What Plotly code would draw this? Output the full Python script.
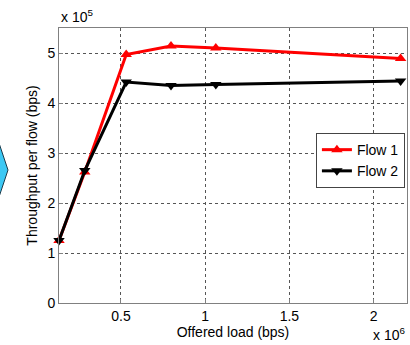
import plotly.graph_objects as go

# Data (x in units of 1e6 bps, y in units of 1e5 bps)
offered_load = [0.132, 0.285, 0.531, 0.797, 1.063, 2.16]
flow1 = [1.25, 2.62, 4.97, 5.14, 5.10, 4.89]
flow2 = [1.25, 2.65, 4.42, 4.35, 4.37, 4.44]
x_ticks = [0.5, 1, 1.5, 2]
y_ticks = [0, 1, 2, 3, 4, 5]

W, H = 410, 345
ml, mr, mt, mb = 59, 3, 28, 42
pw, ph = W - ml - mr, H - mt - mb
FONT = "Liberation Sans, Arial, sans-serif"

fig = go.Figure()
fig.add_trace(go.Scatter(x=offered_load, y=flow1, name="Flow 1", mode="lines+markers",
                         line=dict(color="#ff0000", width=3),
                         marker=dict(symbol="triangle-up", size=10, color="#ff0000"),
                         cliponaxis=False))
fig.add_trace(go.Scatter(x=offered_load, y=flow2, name="Flow 2", mode="lines+markers",
                         line=dict(color="#000000", width=3),
                         marker=dict(symbol="triangle-down", size=10, color="#000000"),
                         cliponaxis=False))

def px_to_paper(px, py):
    return (px - ml) / pw, 1 - (py - mt) / ph

p1 = px_to_paper(-2, 140)
p2 = px_to_paper(8, 170)
p3 = px_to_paper(-2, 200)
fig.add_shape(type="path", xref="paper", yref="paper",
              path=f"M {p1[0]} {p1[1]} L {p2[0]} {p2[1]} L {p3[0]} {p3[1]} Z",
              fillcolor="#3cc8f4", line=dict(color="#1a3a4a", width=1), layer="above")

axis_common = dict(showline=True, linecolor="#808080", linewidth=1, mirror=True,
                   ticks="inside", ticklen=4, tickcolor="#808080",
                   showgrid=True, gridcolor="#555555", griddash="dot", gridwidth=1,
                   zeroline=False, tickfont=dict(family=FONT, size=14, color="#000"))

fig.update_xaxes(range=[0.132, 2.198], tickvals=x_ticks, ticktext=[str(t) for t in x_ticks],
                 title=dict(text="Offered load (bps)", font=dict(family=FONT, size=14, color="#000"), standoff=2),
                 **axis_common)
fig.update_yaxes(range=[0, 5.5], tickvals=y_ticks,
                 title=dict(text="Throughput per flow (bps)", font=dict(family=FONT, size=14, color="#000"), standoff=6),
                 **axis_common)

fig.add_annotation(text="x 10<sup>5</sup>", xref="paper", yref="paper", x=0, y=1, yshift=1,
                   xanchor="left", yanchor="bottom", showarrow=False,
                   font=dict(family=FONT, size=14, color="#000"))
fig.add_annotation(text="x 10<sup>6</sup>", xref="paper", yref="paper", x=1, y=0, yshift=-20,
                   xanchor="right", yanchor="top", showarrow=False,
                   font=dict(family=FONT, size=14, color="#000"))

fig.update_layout(width=W, height=H, margin=dict(l=ml, r=mr, t=mt, b=mb, autoexpand=False),
                  plot_bgcolor="white", paper_bgcolor="white",
                  legend=dict(x=0.994, y=0.618, xanchor="right", yanchor="top",
                              bgcolor="white", bordercolor="#444", borderwidth=1,
                              font=dict(family=FONT, size=14, color="#000"),
                              tracegroupgap=0, itemwidth=30),
                  showlegend=True)

fig.write_html("out.html", config={"displayModeBar": False},
               post_script="document.body.style.margin='0';document.body.style.padding='0';")
